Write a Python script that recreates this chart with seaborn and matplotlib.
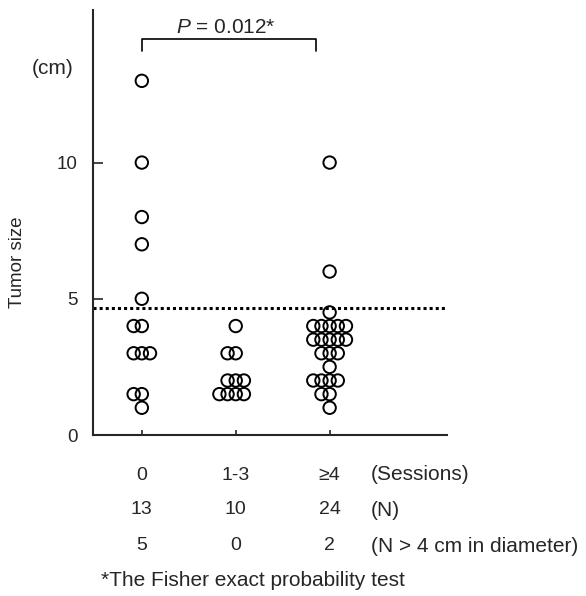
"""Tumor size by number of sessions, swarm of open circles with summary rows."""
import numpy as np
import pandas as pd
import matplotlib
matplotlib.use('Agg')
import matplotlib.pyplot as plt
import matplotlib.transforms as mtransforms
import seaborn as sns

# data
groups = ['0', '1-3', '\u22654']
size_0 = [13, 10, 8, 7, 5, 4, 4, 3, 3, 3, 1.5, 1.5, 1]
size_1_3 = [4, 3, 3, 2, 2, 2, 1.5, 1.5, 1.5, 1.5]
size_4plus = [10, 6, 4.5, 4, 4, 4, 4, 4, 3.5, 3.5, 3.5, 3.5, 3.5,
              3, 3, 3, 2.5, 2, 2, 2, 2, 1.5, 1.5, 1]
n_total = [13, 10, 24]
n_over_4cm = [5, 0, 2]
threshold = 4.65
p_value = 0.012

df = pd.DataFrame({
    'session': [groups[0]] * len(size_0) + [groups[1]] * len(size_1_3) + [groups[2]] * len(size_4plus),
    'size': size_0 + size_1_3 + size_4plus,
})

sns.set_style('ticks')
plt.rcParams['font.family'] = ['Liberation Sans', 'DejaVu Sans']
plt.rcParams['mathtext.fontset'] = 'custom'
plt.rcParams['mathtext.it'] = 'Liberation Sans:italic'
plt.rcParams['mathtext.rm'] = 'Liberation Sans'
FS = 15
FS_NUM = 14

fig = plt.figure(figsize=(5.86, 5.96), dpi=100)
ax = fig.add_axes([93 / 586, 1 - 435 / 596, 354 / 586, 425 / 596])

# small, edge-less swarm gives the tight overlapping spacing of the original
sns.swarmplot(data=df, x='session', y='size', order=groups, color='black',
              size=5.6, linewidth=0, ax=ax)
ax.set_xlim(-0.52, 3.25)
ax.set_ylim(0, 15.6)
fig.canvas.draw()

# redraw the swarm positions as larger open circles
for coll in list(ax.collections):
    xy = coll.get_offsets()
    coll.remove()
    ax.scatter(xy[:, 0], xy[:, 1], s=80, facecolors='none',
               edgecolors='black', linewidths=1.4, zorder=3)

ax.axhline(threshold, color='black', lw=2.2, ls=(0, (1, 1)), zorder=2)

sns.despine(ax=ax)
for side in ('left', 'bottom'):
    ax.spines[side].set_linewidth(1.5)
ax.set_yticks([0, 5, 10])
ax.tick_params(axis='y', direction='in', length=7, width=1.2, labelsize=13.5, pad=11)
ax.tick_params(axis='x', direction='in', length=3.5, width=1.2, labelbottom=False)
ax.set_xlabel('')
ax.set_ylabel('')

fig.text(18 / 586, 1 - 262 / 596, 'Tumor size', rotation=90, ha='center', va='center', fontsize=13.5)
fig.text(53 / 586, 1 - 69 / 596, '(cm)', ha='center', va='center', fontsize=FS)

# significance bracket
ax.plot([0, 0, 1.86, 1.86], [14.08, 14.52, 14.52, 14.08], color='black', lw=1.2, clip_on=False)
ax.text(0.9, 14.97, r'$P$ = %.3f*' % p_value, ha='center', va='center', fontsize=FS)

# summary rows under the axis
trans = mtransforms.blended_transform_factory(ax.transData, fig.transFigure)
rows = [
    (groups, '(Sessions)', 475),
    ([str(v) for v in n_total], '(N)', 510),
    ([str(v) for v in n_over_4cm], '(N > 4 cm in diameter)', 546),
]
for labels, note, ypix in rows:
    for i, lab in enumerate(labels):
        ax.text(i, 1 - ypix / 596, lab, transform=trans, ha='center', va='center', fontsize=FS_NUM)
    fig.text(371 / 586, 1 - ypix / 596, note, ha='left', va='center', fontsize=FS)

fig.text(101 / 586, 1 - 580 / 596, '*The Fisher exact probability test', ha='left', va='center', fontsize=FS)

fig.savefig('out.png', dpi=100)
